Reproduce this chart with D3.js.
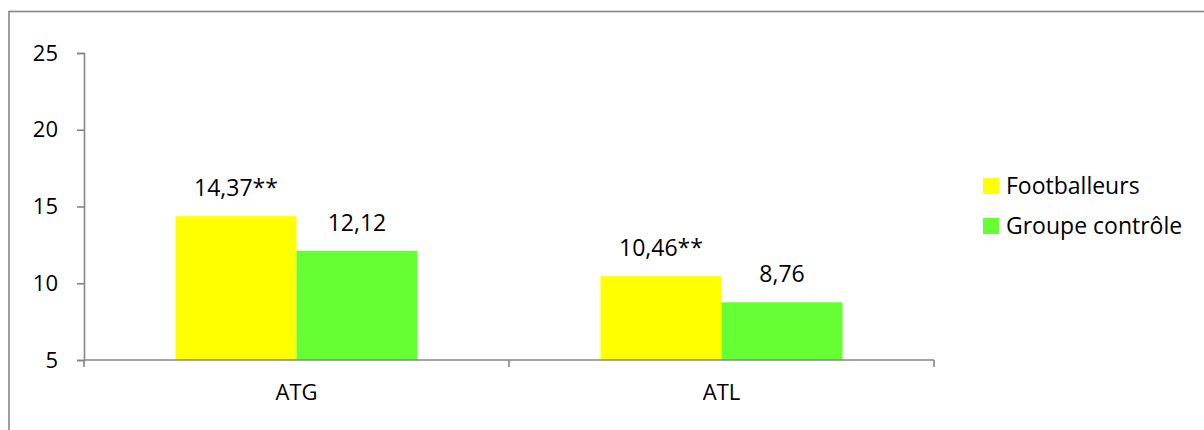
<!DOCTYPE html>
<html>
<head>
<meta charset="utf-8">
<script src="https://cdn.jsdelivr.net/npm/d3@7"></script>
<style>
  html, body { margin: 0; padding: 0; background: #fff; }
  svg { display: block; }
  text { font-family: "Open Sans", Lato, sans-serif; fill: #000; }
</style>
</head>
<body>
<svg id="chart" width="1204" height="430"></svg>
<script>
// Chart data
const categories = ["ATG", "ATL"];
const seriesNames = ["Footballeurs", "Groupe contrôle"];
const footballeurs = [14.37, 10.46];
const groupeControle = [12.12, 8.76];
const significance = ["**", "**"];       // marks shown after the Footballeurs values
const yTicks = [5, 10, 15, 20, 25];
const colors = ["#FFFF00", "#66FF33"];

const seriesValues = [footballeurs, groupeControle];

const svg = d3.select("#chart");
const axisColor = "#868686";

// frame around the chart area
svg.append("rect")
  .attr("x", 9).attr("y", 11.5)
  .attr("width", 1400).attr("height", 600)
  .attr("fill", "none").attr("stroke", axisColor).attr("stroke-width", 1.6);

const plot = { left: 84, right: 934, top: 53, bottom: 360 };

const y = d3.scaleLinear().domain([5, 25]).range([plot.bottom, plot.top]);
const x0 = d3.scaleBand().domain(categories).range([plot.left, plot.right])
  .paddingInner(0).paddingOuter(0);
const x1 = d3.scaleBand().domain(seriesNames).range([0, x0.bandwidth()])
  .paddingInner(0).paddingOuter(0.756);

const fr = d3.formatLocale({ decimal: ",", thousands: " ", grouping: [3], currency: ["", " €"] });
const fmt = fr.format(".2f");

// bars
const groups = svg.append("g").selectAll("g")
  .data(categories)
  .join("g")
  .attr("transform", d => `translate(${x0(d)},0)`);

const cells = (c, ci) => seriesNames.map((s, si) => ({ s, si, ci, v: seriesValues[si][ci] }));

groups.selectAll("rect")
  .data(cells)
  .join("rect")
  .attr("x", d => x1(d.s))
  .attr("y", d => y(d.v))
  .attr("width", x1.bandwidth())
  .attr("height", d => y(5) - y(d.v))
  .attr("fill", d => colors[d.si]);

// value labels
groups.selectAll("text.val")
  .data(cells)
  .join("text")
  .attr("class", "val")
  .attr("x", d => x1(d.s) + x1.bandwidth() / 2)
  .attr("y", d => y(d.v) - 20)
  .attr("text-anchor", "middle")
  .style("font-size", "23px")
  .text(d => fmt(d.v) + (d.si === 0 ? significance[d.ci] : ""));

// y axis
const yAxis = svg.append("g")
  .attr("transform", `translate(${plot.left},0)`)
  .call(d3.axisLeft(y).tickValues(yTicks).tickSize(7).tickPadding(19).tickFormat(d3.format("d")));
yAxis.select(".domain").attr("stroke", axisColor).attr("stroke-width", 1.6);
yAxis.selectAll(".tick line").attr("stroke", axisColor).attr("stroke-width", 1.6);
yAxis.selectAll(".tick text").style("font-size", "22px").attr("font-family", null).attr("fill", "#000");

// x axis with ticks at category boundaries
const xAxisG = svg.append("g").attr("transform", `translate(0,${plot.bottom})`);
xAxisG.append("line")
  .attr("x1", plot.left).attr("x2", plot.right)
  .attr("stroke", axisColor).attr("stroke-width", 1.6);
const boundaries = [x0(categories[0]), ...categories.map(c => x0(c) + x0.bandwidth())];
xAxisG.selectAll("line.tick")
  .data(boundaries)
  .join("line")
  .attr("class", "tick")
  .attr("x1", d => d).attr("x2", d => d)
  .attr("y1", 0).attr("y2", 7)
  .attr("stroke", axisColor).attr("stroke-width", 1.6);
xAxisG.selectAll("text")
  .data(categories)
  .join("text")
  .attr("x", d => x0(d) + x0.bandwidth() / 2)
  .attr("y", 40)
  .attr("text-anchor", "middle")
  .style("font-size", "22px")
  .text(d => d);

// legend
const legend = svg.append("g").attr("transform", "translate(983,178)");
const items = legend.selectAll("g")
  .data(seriesNames)
  .join("g")
  .attr("transform", (d, i) => `translate(0,${i * 40})`);
items.append("rect")
  .attr("width", 16).attr("height", 16)
  .attr("fill", (d, i) => colors[i]);
items.append("text")
  .attr("x", 23).attr("y", 8)
  .attr("dy", "0.35em")
  .style("font-size", "23px")
  .text(d => d);
</script>
</body>
</html>
